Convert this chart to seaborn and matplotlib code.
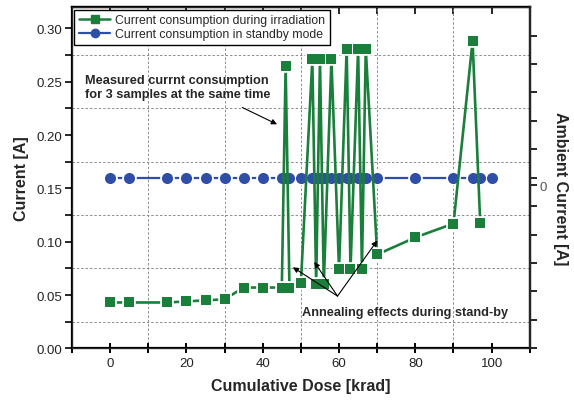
import matplotlib
matplotlib.use("Agg")
import matplotlib.pyplot as plt
from matplotlib.lines import Line2D
from matplotlib.ticker import MultipleLocator, FixedLocator
import seaborn as sns

# data
dose_irr = [0, 5, 15, 20, 25, 30, 35, 40, 45, 46, 47, 50, 53, 54, 55, 56, 58,
            60, 62, 63, 65, 66, 67, 70, 80, 90, 95, 97]
current_irr = [0.043, 0.043, 0.043, 0.044, 0.045, 0.046, 0.057, 0.057, 0.057,
               0.265, 0.057, 0.061, 0.271, 0.060, 0.271, 0.060, 0.271,
               0.074, 0.281, 0.074, 0.281, 0.074, 0.281, 0.088, 0.104,
               0.117, 0.288, 0.118]

dose_stb = [0, 5, 15, 20, 25, 30, 35, 40, 45, 46, 47, 50, 53, 54, 55, 56, 58,
            60, 62, 63, 65, 66, 67, 70, 80, 90, 95, 97, 100]
current_stb = [0.16] * len(dose_stb)

green = "#1b7f3c"
blue = "#2f4ea8"

sns.set_style("ticks")
plt.rcParams["font.family"] = ["Liberation Sans", "DejaVu Sans"]

fig = plt.figure(figsize=(5.74, 4.06), dpi=100)
ax = fig.add_axes([0.1254, 0.1396, 0.7976, 0.8404])

# lines (white marker edge cuts the line near the symbols)
sns.lineplot(x=dose_stb, y=current_stb, ax=ax, color=blue, linewidth=1.6,
             marker="o", markersize=8, markeredgecolor="white",
             markeredgewidth=2.6, estimator=None, sort=False, zorder=3)
sns.scatterplot(x=dose_stb, y=current_stb, ax=ax, color=blue, marker="o",
                s=64, linewidth=0, zorder=4)
sns.lineplot(x=dose_irr, y=current_irr, ax=ax, color=green, linewidth=1.9,
             marker="s", markersize=7.3, markeredgecolor="white",
             markeredgewidth=2.6, estimator=None, sort=False, zorder=5)
sns.scatterplot(x=dose_irr, y=current_irr, ax=ax, color=green, marker="s",
                s=7.3 ** 2, linewidth=0, zorder=6)

ax.set_xlim(-10, 110)
ax.set_ylim(0, 0.32)
ax.xaxis.set_major_locator(MultipleLocator(20))
ax.xaxis.set_minor_locator(FixedLocator([-10, 10, 30, 50, 70, 90, 110]))
ax.yaxis.set_major_locator(MultipleLocator(0.05))
ax.yaxis.set_minor_locator(MultipleLocator(0.025))
ax.yaxis.set_major_formatter(lambda v, p: f"{v:.2f}")

ax.grid(which="minor", color="#8c8c8c", linestyle=(0, (2.5, 2)), linewidth=0.7)
ax.grid(which="major", visible=False)

for s in ax.spines.values():
    s.set_linewidth(1.6)
    s.set_visible(True)
    s.set_color("black")

ax.tick_params(axis="x", which="both", direction="inout", length=7, width=1.4,
               labelsize=9.5, colors="black", pad=3)
ax.tick_params(axis="x", labelcolor="#222222")
ax.tick_params(axis="y", which="both", direction="out", length=5, width=1.4,
               labelsize=9.5, pad=2, labelcolor="#222222")

top = ax.secondary_xaxis("top")
top.xaxis.set_major_locator(MultipleLocator(20))
top.xaxis.set_minor_locator(FixedLocator([-10, 10, 30, 50, 70, 90, 110]))
top.tick_params(which="both", direction="in", length=5, width=1.4,
                labeltop=False)
top.spines["top"].set_linewidth(1.6)

ax2 = ax.twinx()
ax2.set_ylim(-0.153, 0.32 - 0.153)
ax2.yaxis.set_major_locator(FixedLocator([0]))
ax2.yaxis.set_minor_locator(FixedLocator([v * 0.02667 - 0.153 for v in range(0, 13)]))
ax2.yaxis.set_major_formatter(lambda v, p: "0")
ax2.tick_params(axis="y", which="both", direction="out", length=5, width=1.4,
                labelsize=9.5, labelcolor="#555555", pad=2)
ax2.spines["right"].set_linewidth(1.6)
ax2.set_ylabel("Ambient Current [A]", fontsize=11.5, fontweight="bold",
               rotation=270, ha="center", va="center")
ax2.yaxis.set_label_coords(1.068, 0.47)

ax.set_xlabel("Cumulative Dose [krad]", fontsize=11.5, fontweight="bold",
              labelpad=6)
ax.set_ylabel("Current [A]", fontsize=11.5, fontweight="bold", labelpad=5)

handles = [
    Line2D([], [], color=green, marker="s", markersize=6, linewidth=1.8),
    Line2D([], [], color=blue, marker="o", markersize=6, linewidth=1.6),
]
leg = ax.legend(handles, ["Current consumption during irradiation",
                          "Current consumption in standby mode"],
                loc="upper left", fontsize=8.8, frameon=True, fancybox=False,
                edgecolor="black", framealpha=1, borderaxespad=0.2,
                handlelength=2.6, handletextpad=0.4, borderpad=0.35,
                labelspacing=0.2)
leg.get_frame().set_linewidth(1.0)
leg.set_zorder(10)

# annotations
ax.text(-6.5, 0.245, "Measured currnt consumption\nfor 3 samples at the same time",
        fontsize=9.2, fontweight="bold", va="center", ha="left",
        linespacing=1.25, zorder=7)
ax.annotate("", xy=(44.4, 0.209), xytext=(34, 0.227),
            arrowprops=dict(arrowstyle="-|>", color="black", lw=0.8,
                            mutation_scale=8), zorder=7)

ax.text(50.3, 0.034, "Annealing effects during stand-by", fontsize=9.2,
        fontweight="bold", va="center", ha="left", zorder=7)
for tx, ty in [(47.9, 0.076), (53.5, 0.081), (70.0, 0.101)]:
    ax.annotate("", xy=(tx, ty), xytext=(59.6, 0.049),
                arrowprops=dict(arrowstyle="-|>", color="black", lw=0.8,
                                mutation_scale=8, shrinkA=0, shrinkB=0),
                zorder=7)

fig.savefig("out.png", dpi=100)
